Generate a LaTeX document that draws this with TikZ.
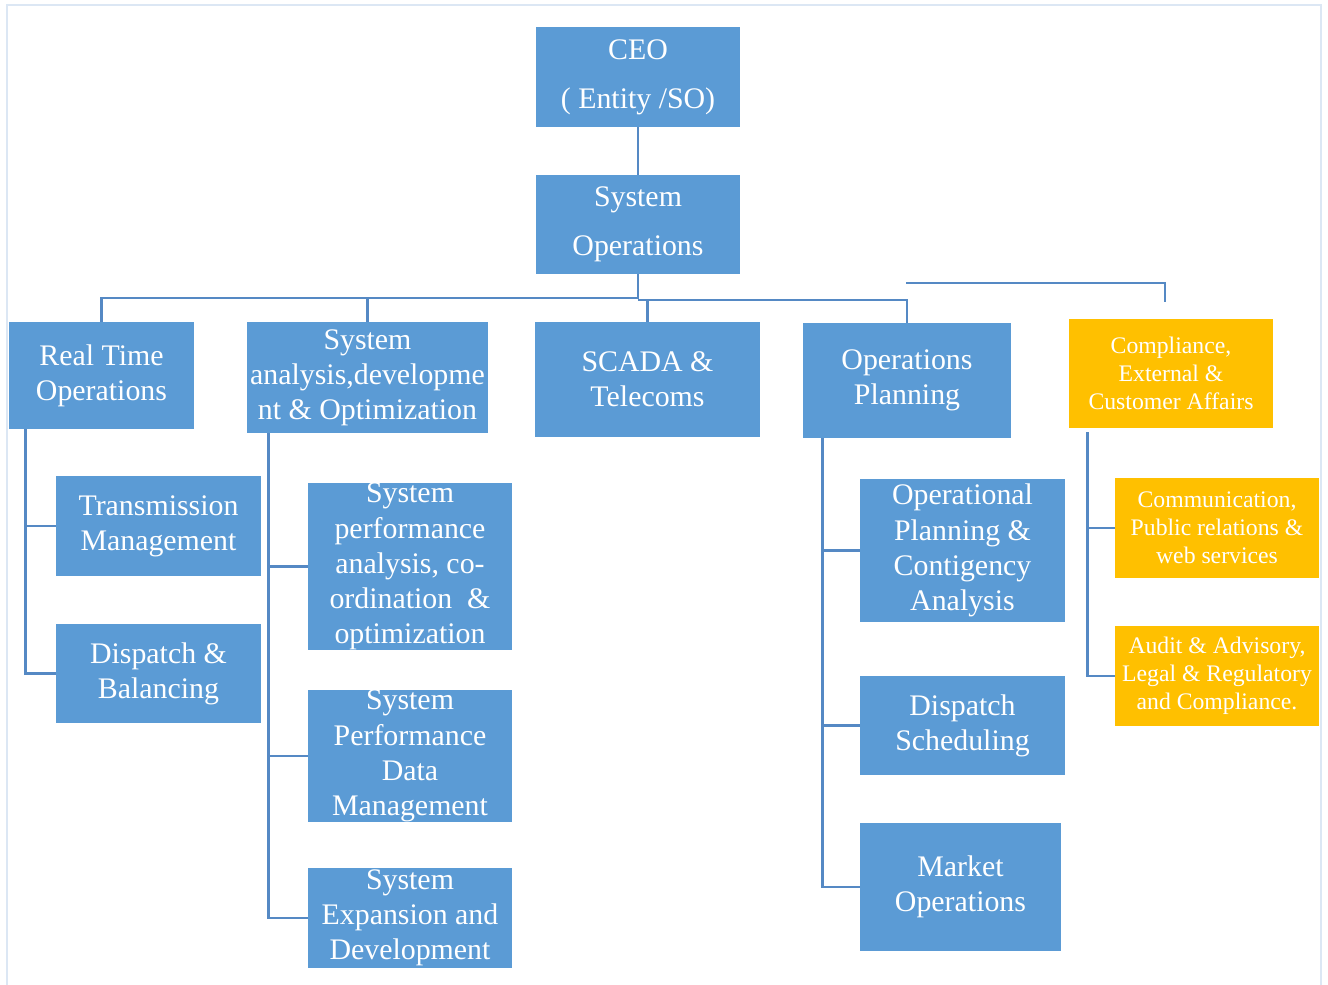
\documentclass[tikz,border=0pt]{standalone}
\usepackage{fontspec}
\setmainfont{Liberation Serif}
\usetikzlibrary{positioning}

\definecolor{boxblue}{HTML}{5B9BD5}
\definecolor{lineblue}{HTML}{5589C4}
\definecolor{boxyellow}{HTML}{FFC000}
\definecolor{pageline}{HTML}{DCE7F4}

\begin{document}
\begin{tikzpicture}[x=0.02cm, y=-0.02cm,
    unit/.style={fill=boxblue, text=white, align=center, inner sep=0pt,
        font=\fontsize{17}{20}\selectfont},
    topunit/.style={unit, font=\fontsize{17}{28}\selectfont},
    yunit/.style={unit, fill=boxyellow, font=\fontsize{13.5}{16}\selectfont},
    conn/.style={draw=lineblue, line width=1.6pt}]

    \useasboundingbox (0,0) rectangle (1328,984);
    % page frame
    \draw[pageline, line width=0.8pt] (7,990) -- (7,5) -- (1321,5) -- (1321,990);

    % Top of the chart
    \node[topunit, minimum width=4.08cm, minimum height=2cm] (ceo) at (638,77) {CEO\\( Entity /SO)};
    \node[topunit, minimum width=4.08cm, minimum height=1.98cm] (sysops) at (638,224.5) {System\\Operations};

    % Departments
    \node[unit, minimum width=3.7cm, minimum height=2.14cm] (rto) at (101.5,375.5) {Real Time\\Operations};
    \node[unit, minimum width=4.82cm, minimum height=2.22cm] (sad) at (367.5,377.5) {System\\analysis,developme\\nt \& Optimization};
    \node[unit, minimum width=4.5cm, minimum height=2.3cm] (scada) at (647.5,379.5) {SCADA \&\\Telecoms};
    \node[unit, minimum width=4.16cm, minimum height=2.3cm] (opp) at (907,380.5) {Operations\\Planning};
    \node[yunit, minimum width=4.08cm, minimum height=2.18cm] (comp) at (1171,373.5) {Compliance,\\External \&\\Customer Affairs};

    % Real time operations
    \node[unit, minimum width=4.1cm, minimum height=2cm] (tm) at (158.5,526) {Transmission\\Management};
    \node[unit, minimum width=4.1cm, minimum height=1.98cm] (db) at (158.5,673.5) {Dispatch \&\\Balancing};

    % System analysis
    \node[unit, minimum width=4.08cm, minimum height=3.26cm] (spa) at (410,566.5) {System\\performance\\analysis, co-\\ordination~~\&\\optimization};
    \node[unit, minimum width=4.08cm, minimum height=2.56cm] (spd) at (410,756) {System\\Performance\\Data\\Management};
    \node[unit, minimum width=4.08cm, minimum height=2cm] (sed) at (410,918) {System\\Expansion and\\Development};

    % Operations planning
    \node[unit, minimum width=4.1cm, minimum height=2.86cm] (opc) at (962.5,550.5) {Operational\\Planning \&\\Contigency\\Analysis};
    \node[unit, minimum width=4.1cm, minimum height=1.98cm] (ds) at (962.5,725.5) {Dispatch\\Scheduling};
    \node[unit, minimum width=4.02cm, minimum height=2.56cm] (mo) at (960.5,887) {Market\\Operations};

    % Compliance
    \node[yunit, minimum width=4.08cm, minimum height=2cm] (cpr) at (1217,528) {Communication,\\Public relations \&\\web services};
    \node[yunit, minimum width=4.08cm, minimum height=2cm] (aud) at (1217,676) {Audit \& Advisory,\\Legal \& Regulatory\\and Compliance.};

    % Connectors
    \coordinate (busL) at (638,298);
    \coordinate (busR) at (638,300);
    \coordinate (stubA) at (906,283);
    \coordinate (stubB) at (1165,302);

    \draw[conn] (ceo) -- (sysops);
    \draw[conn] (sysops) -- (busL) -| (rto);
    \draw[conn] (busL) -| (sad);
    \draw[conn] (busR) -| (scada);
    \draw[conn] (busR) -| (opp);
    \draw[conn] (stubA) -| (stubB);

    \draw[conn] ([xshift=0.34cm]rto.south west) |- (tm);
    \draw[conn] ([xshift=0.34cm]rto.south west) |- (db);

    \draw[conn] ([xshift=0.44cm]sad.south west) |- (spa);
    \draw[conn] ([xshift=0.44cm]sad.south west) |- (spd);
    \draw[conn] ([xshift=0.44cm]sad.south west) |- (sed);

    \draw[conn] ([xshift=0.4cm]opp.south west) |- (opc);
    \draw[conn] ([xshift=0.4cm]opp.south west) |- (ds);
    \draw[conn] ([xshift=0.4cm]opp.south west) |- (mo);

    \draw[conn] ([xshift=0.38cm,yshift=-0.08cm]comp.south west) |- (cpr);
    \draw[conn] ([xshift=0.38cm,yshift=-0.08cm]comp.south west) |- (aud);

\end{tikzpicture}
\end{document}
